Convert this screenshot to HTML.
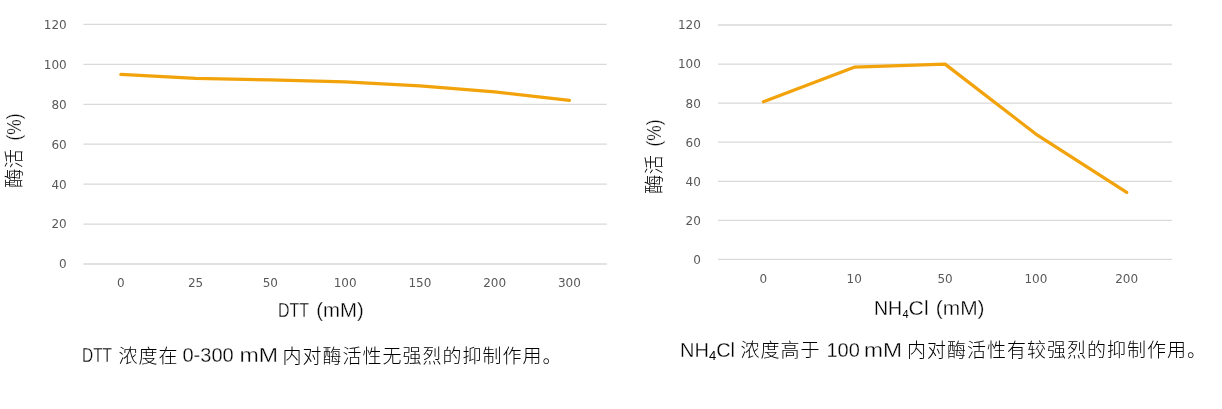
<!DOCTYPE html>
<html><head><meta charset="utf-8"><style>
html,body{margin:0;padding:0;background:#fff;width:1222px;height:409px;overflow:hidden}
svg{display:block}
.tk{font-family:"DejaVu Sans", "Liberation Sans", sans-serif;font-size:12px;fill:#595959}
.ax{font-family:"Liberation Sans", "Noto Sans CJK SC", sans-serif;font-size:19.5px;fill:#000;stroke:#fff;stroke-width:0.3px}
.cap{font-family:"Liberation Sans", "Noto Sans CJK SC", sans-serif;font-size:20px;fill:#000;stroke:#fff;stroke-width:0.3px}
.c{font-family:"Liberation Sans", "Noto Sans CJK SC", sans-serif;font-weight:300}
.cap.c{font-size:19px;letter-spacing:1px;stroke:none}
.ax .c{stroke:none}
</style></head><body>
<svg width="1222" height="409" viewBox="0 0 1222 409">
<line x1="83.5" y1="24.45" x2="606.8" y2="24.45" stroke="#D9D9D9" stroke-width="1.3"/>
<text x="66.7" y="28.85" class="tk" text-anchor="end">120</text>
<line x1="83.5" y1="64.38" x2="606.8" y2="64.38" stroke="#D9D9D9" stroke-width="1.3"/>
<text x="66.7" y="68.78" class="tk" text-anchor="end">100</text>
<line x1="83.5" y1="104.30" x2="606.8" y2="104.30" stroke="#D9D9D9" stroke-width="1.3"/>
<text x="66.7" y="108.70" class="tk" text-anchor="end">80</text>
<line x1="83.5" y1="144.22" x2="606.8" y2="144.22" stroke="#D9D9D9" stroke-width="1.3"/>
<text x="66.7" y="148.62" class="tk" text-anchor="end">60</text>
<line x1="83.5" y1="184.15" x2="606.8" y2="184.15" stroke="#D9D9D9" stroke-width="1.3"/>
<text x="66.7" y="188.55" class="tk" text-anchor="end">40</text>
<line x1="83.5" y1="224.08" x2="606.8" y2="224.08" stroke="#D9D9D9" stroke-width="1.3"/>
<text x="66.7" y="228.48" class="tk" text-anchor="end">20</text>
<line x1="83.5" y1="264.00" x2="606.8" y2="264.00" stroke="#D9D9D9" stroke-width="1.3"/>
<text x="66.7" y="268.40" class="tk" text-anchor="end">0</text>
<text x="120.88" y="287" class="tk" text-anchor="middle">0</text>
<text x="195.64" y="287" class="tk" text-anchor="middle">25</text>
<text x="270.39" y="287" class="tk" text-anchor="middle">50</text>
<text x="345.15" y="287" class="tk" text-anchor="middle">100</text>
<text x="419.91" y="287" class="tk" text-anchor="middle">150</text>
<text x="494.66" y="287" class="tk" text-anchor="middle">200</text>
<text x="569.42" y="287" class="tk" text-anchor="middle">300</text>
<path d="M120.88,74.36 L195.64,78.35 L270.39,79.95 L345.15,81.94 L419.91,85.93 L494.66,91.92 L569.42,100.31" fill="none" stroke="#F2A30B" stroke-width="3.3" stroke-linejoin="round" stroke-linecap="round"/>
<g transform="translate(20.5,188) rotate(-90)"><text x="0" y="0" class="ax"><tspan class="c">酶活</tspan></text><text x="47.5" y="0" class="ax" textLength="27" lengthAdjust="spacingAndGlyphs">(%)</text></g>
<text x="278" y="316.8" class="ax" textLength="31" lengthAdjust="spacingAndGlyphs">DTT</text>
<text x="316.3" y="316.8" class="ax" textLength="47.5" lengthAdjust="spacingAndGlyphs">(mM)</text>
<line x1="718.0" y1="25.00" x2="1172.1" y2="25.00" stroke="#D9D9D9" stroke-width="1.3"/>
<text x="700.9" y="29.40" class="tk" text-anchor="end">120</text>
<line x1="718.0" y1="64.07" x2="1172.1" y2="64.07" stroke="#D9D9D9" stroke-width="1.3"/>
<text x="700.9" y="68.47" class="tk" text-anchor="end">100</text>
<line x1="718.0" y1="103.15" x2="1172.1" y2="103.15" stroke="#D9D9D9" stroke-width="1.3"/>
<text x="700.9" y="107.55" class="tk" text-anchor="end">80</text>
<line x1="718.0" y1="142.22" x2="1172.1" y2="142.22" stroke="#D9D9D9" stroke-width="1.3"/>
<text x="700.9" y="146.62" class="tk" text-anchor="end">60</text>
<line x1="718.0" y1="181.30" x2="1172.1" y2="181.30" stroke="#D9D9D9" stroke-width="1.3"/>
<text x="700.9" y="185.70" class="tk" text-anchor="end">40</text>
<line x1="718.0" y1="220.37" x2="1172.1" y2="220.37" stroke="#D9D9D9" stroke-width="1.3"/>
<text x="700.9" y="224.77" class="tk" text-anchor="end">20</text>
<line x1="718.0" y1="259.45" x2="1172.1" y2="259.45" stroke="#D9D9D9" stroke-width="1.3"/>
<text x="700.9" y="263.85" class="tk" text-anchor="end">0</text>
<text x="763.41" y="283" class="tk" text-anchor="middle">0</text>
<text x="854.23" y="283" class="tk" text-anchor="middle">10</text>
<text x="945.05" y="283" class="tk" text-anchor="middle">50</text>
<text x="1035.87" y="283" class="tk" text-anchor="middle">100</text>
<text x="1126.69" y="283" class="tk" text-anchor="middle">200</text>
<path d="M763.41,101.78 L854.23,67.20 L945.05,64.07 L1035.87,134.02 L1126.69,192.44" fill="none" stroke="#F2A30B" stroke-width="3.3" stroke-linejoin="round" stroke-linecap="round"/>
<g transform="translate(661,194) rotate(-90)"><text x="0" y="0" class="ax"><tspan class="c">酶活</tspan></text><text x="47.5" y="0" class="ax" textLength="27" lengthAdjust="spacingAndGlyphs">(%)</text></g>
<text x="874" y="314.8" class="ax">NH</text>
<text x="902.5" y="318" class="ax" style="font-size:11px;stroke:none">4</text>
<text x="908.6" y="314.8" class="ax" textLength="20" lengthAdjust="spacingAndGlyphs">Cl</text>
<text x="935.8" y="314.8" class="ax" textLength="48.8" lengthAdjust="spacingAndGlyphs">(mM)</text>
<text x="82" y="362" class="cap" textLength="30" lengthAdjust="spacingAndGlyphs">DTT</text>
<text x="118.6" y="363" class="cap c">浓度在</text>
<text x="182.5" y="362" class="cap">0-300</text>
<text x="239.5" y="362" class="cap" textLength="38.5" lengthAdjust="spacingAndGlyphs">mM</text>
<text x="282.5" y="363" class="cap c">内对酶活性无强烈的抑制作用。</text>
<text x="680" y="356.6" class="cap">NH<tspan font-size="13" dy="3" stroke="none">4</tspan><tspan dy="-3">Cl</tspan></text>
<text x="740.5" y="357.3" class="cap c">浓度高于</text>
<text x="826.5" y="356.6" class="cap">100</text>
<text x="864" y="356.6" class="cap" textLength="38" lengthAdjust="spacingAndGlyphs">mM</text>
<text x="907" y="357.3" class="cap c">内对酶活性有较强烈的抑制作用。</text>
</svg>
</body></html>
